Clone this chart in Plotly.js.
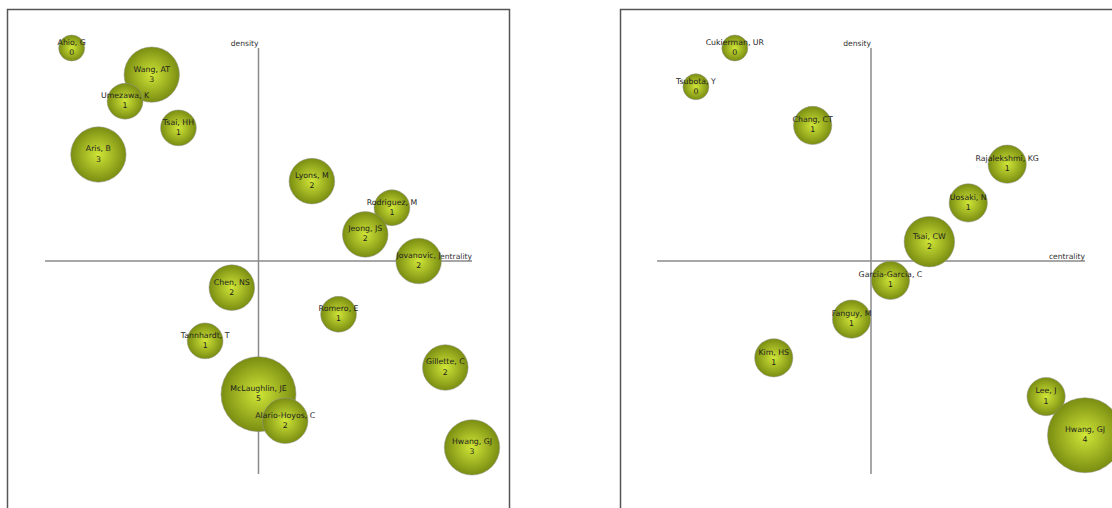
<!DOCTYPE html>
<html>
<head>
<meta charset="utf-8">
<script src="https://cdn.plot.ly/plotly-3.0.1.min.js"></script>
<style>html,body{margin:0;padding:0;background:#fff;}#chart{width:1112px;height:508px;}</style>
</head>
<body>
<div id="chart"></div>
<script>
// ---- Left panel data (rank-based strategic diagram) ----
const leftNames = ["Ahio, G","Aris, B","Wang, AT","Umezawa, K","Tsai, HH","Tannhardt, T","Chen, NS","McLaughlin, JE","Alario-Hoyos, C","Lyons, M","Romero, E","Rodriguez, M","Jeong, JS","Jovanovic, J","Gillette, C","Hwang, GJ"];
const leftCentrality = [1,2,4,3,5,6,7,8,9,10,11,13,12,14,15,16];
const leftDensity    = [16,12,15,14,13,5,7,3,2,11,6,10,9,8,4,1];
const leftCount      = [0,3,3,1,1,1,2,5,2,2,1,1,2,2,2,3];

// ---- Right panel data ----
const rightNames = ["Tsubota, Y","Cukierman, UR","Kim, HS","Chang, CT","Fanguy, M","Garcia-Garcia, C","Tsai, CW","Uosaki, N","Rajalekshmi, KG","Lee, J","Hwang, GJ"];
const rightCentrality = [1,2,3,4,5,6,7,8,9,10,11];
const rightDensity    = [10,11,3,9,4,5,6,7,8,2,1];
const rightCount      = [0,0,1,1,1,1,2,1,1,1,4];

const axisLabels = {x: "centrality", y: "density"};

const FONT = "DejaVu Sans, Verdana, sans-serif";
const R_MIN = 13, R_MAX = 37.5;

function diam(counts){
  const mx = Math.max(...counts);
  return counts.map(n => 2*(R_MIN + (R_MAX-R_MIN)*n/mx));
}

function panelTraces(names, cen, den, cnt, xa, ya){
  const N = names.length;
  const labelTrace = {
    type:'scatter', mode:'text', xaxis:xa, yaxis:ya,
    x:[N/2, N], y:[N, N/2],
    text:[axisLabels.y, axisLabels.x],
    textposition:['top left','top left'],
    textfont:{family:FONT, size:7.6, color:'#333'},
    hoverinfo:'skip', showlegend:false, cliponaxis:false
  };
  const bubbleTrace = {
    type:'scatter', mode:'markers+text', xaxis:xa, yaxis:ya,
    x:cen, y:den,
    text: names.map((s,i)=> s + '<br>' + cnt[i]),
    textposition:'middle center',
    textfont:{family:FONT, size:7.8, color:'#1e1e1e'},
    marker:{
      size: diam(cnt), sizemode:'diameter',
      color:'#7a8d12',
      gradient:{type:'radial', color:'#d0e637'},
      line:{color:'rgba(150,150,150,0.5)', width:1},
      opacity:1
    },
    hoverinfo:'skip', showlegend:false, cliponaxis:false
  };
  return [labelTrace, bubbleTrace];
}

const W = 1112, H = 508;
const nL = leftNames.length, nR = rightNames.length;

const data = [
  ...panelTraces(leftNames, leftCentrality, leftDensity, leftCount, 'x', 'y'),
  ...panelTraces(rightNames, rightCentrality, rightDensity, rightCount, 'x2', 'y2')
];

const axBase = {showgrid:false, zeroline:false, showticklabels:false, ticks:'', showline:false, fixedrange:true};

const lineStyle = {color:'#8a8a8a', width:1.5};
const boxStyle = {color:'#555', width:1.5};

const layout = {
  width:W, height:H,
  margin:{l:0, r:0, t:0, b:0},
  paper_bgcolor:'#fff', plot_bgcolor:'rgba(0,0,0,0)',
  showlegend:false,
  xaxis:  Object.assign({}, axBase, {domain:[45/W, 472/W], range:[0, nL], anchor:'y'}),
  yaxis:  Object.assign({}, axBase, {domain:[(H-474)/H, (H-48)/H], range:[0, nL], anchor:'x'}),
  xaxis2: Object.assign({}, axBase, {domain:[657/W, 1085/W], range:[0, nR], anchor:'y2'}),
  yaxis2: Object.assign({}, axBase, {domain:[(H-474)/H, (H-48)/H], range:[0, nR], anchor:'x2'}),
  shapes:[
    // panel frames
    {type:'rect', xref:'paper', yref:'paper', x0:7.5/W, x1:509.5/W, y0:-0.05, y1:(H-9.5)/H, line:boxStyle, layer:'below'},
    {type:'rect', xref:'paper', yref:'paper', x0:620.5/W, x1:1.05, y0:-0.05, y1:(H-9.5)/H, line:boxStyle, layer:'below'},
    // crossing axes, left
    {type:'line', xref:'x', yref:'y', x0:nL/2, x1:nL/2, y0:0, y1:nL, line:lineStyle, layer:'below'},
    {type:'line', xref:'x', yref:'y', x0:0, x1:nL, y0:nL/2, y1:nL/2, line:lineStyle, layer:'below'},
    // crossing axes, right
    {type:'line', xref:'x2', yref:'y2', x0:nR/2, x1:nR/2, y0:0, y1:nR, line:lineStyle, layer:'below'},
    {type:'line', xref:'x2', yref:'y2', x0:0, x1:nR, y0:nR/2, y1:nR/2, line:lineStyle, layer:'below'}
  ]
};

Plotly.newPlot('chart', data, layout, {displayModeBar:false, staticPlot:true});
</script>
</body>
</html>
